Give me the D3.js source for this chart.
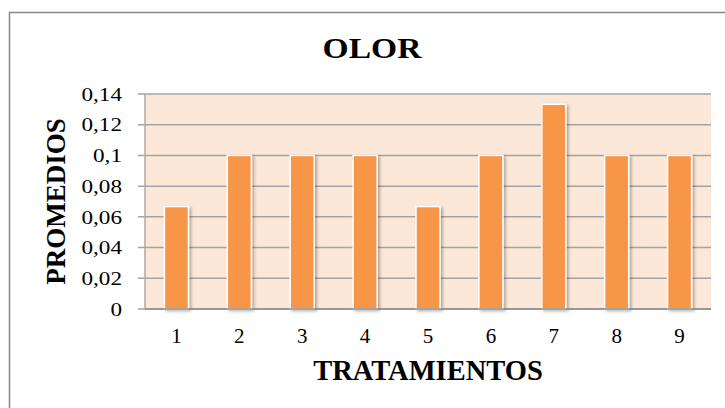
<!DOCTYPE html>
<html lang="es">
<head>
<meta charset="UTF-8">
<title>OLOR</title>
<script src="https://d3js.org/d3.v7.min.js"></script>
<style>
    body { margin: 0; background: #fff; }
    text { font-family: "Liberation Serif", "Times New Roman", serif; fill: #000; }
    .grid line { stroke: #a3a3a3; stroke-width: 1.5px; }
</style>
</head>
<body>
<svg width="725" height="408"></svg>
<script>
    // datos
    const tratamientos = ["1", "2", "3", "4", "5", "6", "7", "8", "9"];
    const promedios = [0.0667, 0.1, 0.1, 0.1, 0.0667, 0.1, 0.1333, 0.1, 0.1];
    const yTicks = [0, 0.02, 0.04, 0.06, 0.08, 0.1, 0.12, 0.14];

    const svg = d3.select("svg");
    const plot = { left: 145, right: 711, top: 94, bottom: 309 };

    // marco exterior del grafico
    svg.append("rect")
        .attr("x", 9.5).attr("y", 12.5)
        .attr("width", 760).attr("height", 420)
        .attr("fill", "#fff")
        .attr("stroke", "#878787")
        .attr("stroke-width", 1.5);

    const defs = svg.append("defs");
    defs.append("filter").attr("id", "sombra")
        .attr("x", "-30%").attr("y", "-10%").attr("width", "160%").attr("height", "130%")
        .append("feDropShadow")
        .attr("dx", 2).attr("dy", 1.5).attr("stdDeviation", 1.5)
        .attr("flood-color", "#000").attr("flood-opacity", 0.3);

    const x = d3.scaleBand()
        .domain(tratamientos)
        .range([plot.left, plot.right])
        .paddingInner(0.618)
        .paddingOuter(0.309);

    const y = d3.scaleLinear()
        .domain([0, 0.14])
        .range([plot.bottom, plot.top]);

    const es = d3.formatLocale({ decimal: ",", thousands: ".", grouping: [3], currency: ["", ""] });
    const fmt = es.format("~g");

    // fondo del area de trazado
    svg.append("rect")
        .attr("x", plot.left).attr("y", plot.top)
        .attr("width", plot.right - plot.left)
        .attr("height", plot.bottom - plot.top)
        .attr("fill", "#fce8d9");

    // lineas de cuadricula + marcas
    svg.append("g")
        .attr("class", "grid")
        .selectAll("line")
        .data(yTicks)
        .join("line")
        .attr("x1", plot.left - 7)
        .attr("x2", plot.right)
        .attr("y1", d => y(d))
        .attr("y2", d => y(d));

    // eje vertical
    svg.append("line")
        .attr("x1", plot.left).attr("x2", plot.left)
        .attr("y1", plot.top).attr("y2", plot.bottom)
        .attr("stroke", "#b5a79c").attr("stroke-width", 1.5);

    // barras
    svg.append("g")
        .selectAll("rect")
        .data(promedios)
        .join("rect")
        .attr("x", (d, i) => x(tratamientos[i]))
        .attr("y", d => y(d))
        .attr("width", x.bandwidth())
        .attr("height", d => y(0) - y(d))
        .attr("fill", "#f79646")
        .attr("stroke", "#fff")
        .attr("stroke-width", 1.5)
        .attr("filter", "url(#sombra)");

    // eje horizontal
    svg.append("line")
        .attr("x1", plot.left).attr("x2", plot.right)
        .attr("y1", plot.bottom).attr("y2", plot.bottom)
        .attr("stroke", "#8c8c8c").attr("stroke-width", 1.5);

    // etiquetas eje y
    svg.append("g")
        .selectAll("text")
        .data(yTicks)
        .join("text")
        .attr("transform", d => `translate(122,${y(d)}) scale(1.22,1)`)
        .attr("text-anchor", "end")
        .attr("dy", "0.35em")
        .style("font-size", "19px")
        .text(d => fmt(d));

    // etiquetas eje x
    svg.append("g")
        .selectAll("text")
        .data(tratamientos)
        .join("text")
        .attr("x", d => x(d) + x.bandwidth() / 2)
        .attr("y", 343)
        .attr("text-anchor", "middle")
        .style("font-size", "21px")
        .text(d => d);

    // titulo
    svg.append("text")
        .attr("transform", "translate(372,58) scale(1.12,1)")
        .attr("text-anchor", "middle")
        .style("font-size", "30px")
        .style("font-weight", "bold")
        .text("OLOR");

    // titulos de ejes
    svg.append("text")
        .attr("x", (plot.left + plot.right) / 2)
        .attr("y", 380)
        .attr("text-anchor", "middle")
        .style("font-size", "28.5px")
        .style("font-weight", "bold")
        .text("TRATAMIENTOS");

    svg.append("text")
        .attr("transform", `translate(65,${(plot.top + plot.bottom) / 2}) rotate(-90)`)
        .attr("text-anchor", "middle")
        .style("font-size", "27px")
        .style("font-weight", "bold")
        .text("PROMEDIOS");
</script>
</body>
</html>
